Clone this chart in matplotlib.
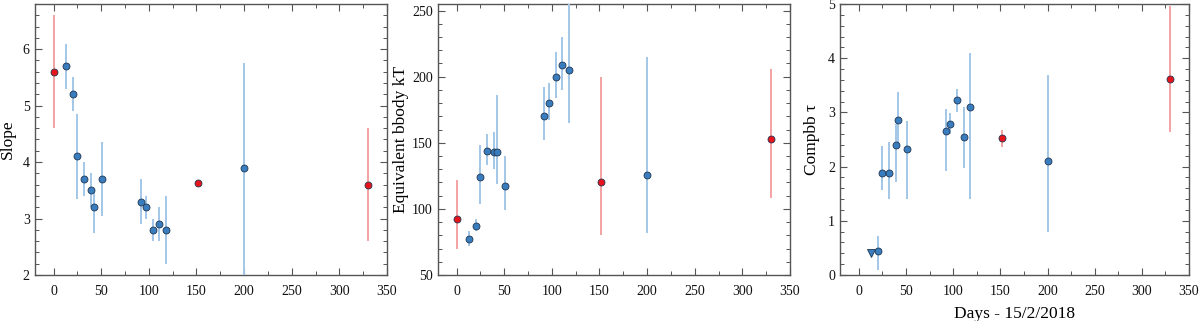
import matplotlib
matplotlib.use("Agg")
import matplotlib.pyplot as plt
from matplotlib.ticker import MultipleLocator
import numpy as np

plt.rcParams['font.family'] = ['Liberation Serif', 'DejaVu Serif']

# Blue (main) epochs
days_blue = [13, 20, 25, 32, 39, 42, 51, 92, 97, 104, 111, 118, 200]
# Red epochs
days_red = [0, 152, 330]

# Panel 1: Slope
slope_blue = [5.7, 5.2, 4.1, 3.7, 3.5, 3.2, 3.7, 3.3, 3.2, 2.8, 2.9, 2.8, 3.9]
slope_blue_lo = [5.3, 4.9, 3.35, 3.4, 3.2, 2.75, 3.05, 2.9, 3.0, 2.6, 2.6, 2.2, 1.9]
slope_blue_hi = [6.1, 5.5, 4.85, 4.0, 3.8, 3.5, 4.35, 3.7, 3.4, 3.0, 3.2, 3.4, 5.75]
slope_red = [5.6, 3.63, 3.6]
slope_red_lo = [4.6, 3.63, 2.6]
slope_red_hi = [6.6, 3.63, 4.6]

# Panel 2: Equivalent bbody kT
kt_blue = [77, 87, 124, 144, 143, 143, 117, 170, 180, 200, 209, 205, 126]
kt_blue_lo = [72, 83, 104, 133, 130, 119, 99, 152, 167, 184, 190, 165, 82]
kt_blue_hi = [83, 92, 148, 157, 158, 186, 140, 192, 195, 219, 230, 270, 215]
kt_red = [92, 120, 153]
kt_red_lo = [70, 80, 108]
kt_red_hi = [122, 200, 206]

# Panel 3: Compbb tau
tau_days_blue = [20, 25, 32, 39, 42, 51, 92, 97, 104, 111, 118, 200]
tau_blue = [0.44, 1.88, 1.89, 2.39, 2.86, 2.33, 2.65, 2.79, 3.22, 2.54, 3.10, 2.10]
tau_blue_lo = [0.09, 1.57, 1.40, 1.72, 2.39, 1.40, 1.92, 2.60, 3.01, 1.98, 1.40, 0.80]
tau_blue_hi = [0.72, 2.38, 2.46, 2.79, 3.37, 2.85, 3.06, 2.98, 3.44, 3.10, 4.10, 3.69]
tau_ul_day = [13]
tau_ul = [0.40]
tau_days_red = [152, 330]
tau_red = [2.52, 3.61]
tau_red_lo = [2.37, 2.63]
tau_red_hi = [2.67, 4.96]

BLUE = '#3a7dbf'
BLUE_ERR = '#a4c7e8'
RED = '#e8141c'
RED_ERR = '#f3a3a3'
EDGE = '#1f3550'
SPINE = '#555555'

fig = plt.figure(figsize=(12, 3.21), dpi=100)
H = 321.0
W = 1200.0
def add_ax(l, r, t=4, b=275):
    return fig.add_axes([l / W, 1 - b / H, (r - l) / W, (b - t) / H])

ax1 = add_ax(34.5, 387)
ax2 = add_ax(437.5, 790)
ax3 = add_ax(840, 1189)


def plot_series(ax, x, y, lo, hi, color, ecolor, z=3):
    y = np.asarray(y, float)
    err = [y - np.asarray(lo, float), np.asarray(hi, float) - y]
    ax.errorbar(x, y, yerr=err, fmt='none', ecolor=ecolor, elinewidth=1.4,
                capsize=0, zorder=z)
    ax.plot(x, y, 'o', ms=5, mfc=color, mec=EDGE, mew=0.6, zorder=z + 1,
            linestyle='none')


plot_series(ax1, days_blue, slope_blue, slope_blue_lo, slope_blue_hi, BLUE, BLUE_ERR)
plot_series(ax1, days_red, slope_red, slope_red_lo, slope_red_hi, RED, RED_ERR)

plot_series(ax2, days_blue, kt_blue, kt_blue_lo, kt_blue_hi, BLUE, BLUE_ERR)
plot_series(ax2, days_red, kt_red, kt_red_lo, kt_red_hi, RED, RED_ERR)

plot_series(ax3, tau_days_blue, tau_blue, tau_blue_lo, tau_blue_hi, BLUE, BLUE_ERR)
plot_series(ax3, tau_days_red, tau_red, tau_red_lo, tau_red_hi, RED, RED_ERR)
ax3.plot(tau_ul_day, tau_ul, 'v', ms=6, mfc=BLUE, mec=EDGE, mew=0.6, zorder=5)

ax1.set_ylim(2, 6.8)
ax1.yaxis.set_major_locator(MultipleLocator(1))
ax1.yaxis.set_minor_locator(MultipleLocator(0.2))
ax1.set_ylabel('Slope', fontsize=12.5, labelpad=5)

ax2.set_ylim(50, 255)
ax2.yaxis.set_major_locator(MultipleLocator(50))
ax2.yaxis.set_minor_locator(MultipleLocator(10))
ax2.set_ylabel('Equivalent bbody kT', fontsize=12.5, labelpad=2)

ax3.set_ylim(0, 5)
ax3.yaxis.set_major_locator(MultipleLocator(1))
ax3.yaxis.set_minor_locator(MultipleLocator(0.2))
ax3.set_ylabel('Compbb τ', fontsize=12.5, labelpad=6)
ax3.set_xlabel('Days - 15/2/2018', fontsize=12.5, labelpad=6)

for ax in (ax1, ax2, ax3):
    ax.set_xlim(-20, 350)
    ax.xaxis.set_major_locator(MultipleLocator(50))
    ax.xaxis.set_minor_locator(MultipleLocator(25))
    ax.tick_params(which='both', direction='in', top=True, right=True,
                   color=SPINE, labelsize=10, labelcolor='#111111')
    ax.tick_params(which='major', length=5, width=0.8)
    ax.tick_params(which='minor', length=3, width=0.7)
    ax.tick_params(axis='x', pad=7)
    for s in ax.spines.values():
        s.set_color(SPINE)
        s.set_linewidth(1.0)

fig.savefig('out.png', dpi=100)
